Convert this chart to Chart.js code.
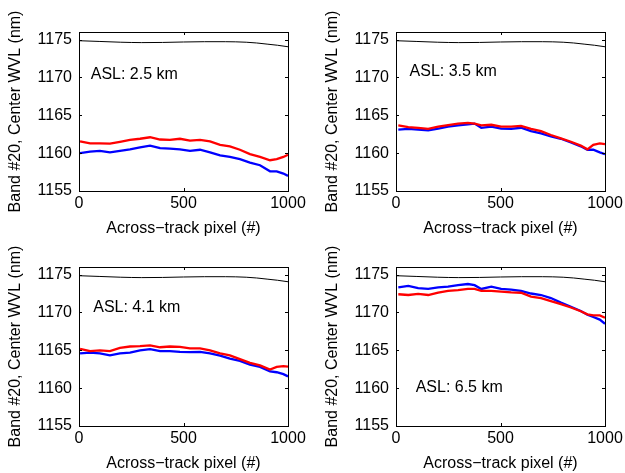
<!DOCTYPE html>
<html>
<head>
<meta charset="utf-8">
<script src="https://cdn.jsdelivr.net/npm/chart.js@4/dist/chart.umd.min.js"></script>
<style>
  body { margin: 0; background: #fff; width: 625px; height: 473px; position: relative; overflow: hidden; }
  canvas { position: absolute; }
</style>
</head>
<body>
<canvas id="c1" width="310" height="236" style="left:0;top:0"></canvas>
<canvas id="c2" width="310" height="236" style="left:317px;top:0"></canvas>
<canvas id="c3" width="310" height="236" style="left:0;top:235px"></canvas>
<canvas id="c4" width="310" height="236" style="left:317px;top:235px"></canvas>
<script>
// tick labels
const xTicks = [0, 500, 1000];
const yTicks = [1155, 1160, 1165, 1170, 1175];

// reference curve (black)
const refPixels = [0, 100, 200, 300, 400, 500, 600, 700, 800, 850, 900, 950, 1000];
const refWvl = [1174.85, 1174.75, 1174.65, 1174.6, 1174.62, 1174.68, 1174.72, 1174.72, 1174.65, 1174.55, 1174.4, 1174.25, 1174.05];

// across-track pixels sampled
const pixelsA = [5, 53, 100, 148, 196, 244, 292, 340, 388, 435, 483, 531, 579, 627, 675, 722, 770, 818, 866, 914, 946, 978, 1000];
const pixelsB = [11, 59, 106, 154, 202, 249, 297, 344, 376, 408, 456, 503, 551, 598, 646, 694, 741, 789, 837, 884, 916, 944, 975, 1000];

// ASL 2.5 km
const red25 = [1161.56, 1161.3, 1161.3, 1161.25, 1161.5, 1161.75, 1161.9, 1162.1, 1161.8, 1161.75, 1161.9, 1161.65, 1161.75, 1161.55, 1161.1, 1160.9, 1160.45, 1159.87, 1159.5, 1159.06, 1159.2, 1159.5, 1159.8];
const blue25 = [1160.0, 1160.2, 1160.3, 1160.1, 1160.3, 1160.5, 1160.75, 1161.0, 1160.65, 1160.6, 1160.5, 1160.3, 1160.45, 1160.1, 1159.7, 1159.5, 1159.2, 1158.75, 1158.4, 1157.6, 1157.6, 1157.3, 1157.0];
// ASL 3.5 km
const red35 = [1163.66, 1163.44, 1163.35, 1163.2, 1163.5, 1163.7, 1163.9, 1164.0, 1163.9, 1163.66, 1163.75, 1163.5, 1163.5, 1163.6, 1163.2, 1162.9, 1162.4, 1161.96, 1161.5, 1161.0, 1160.5, 1161.1, 1161.3, 1161.2];
const blue35 = [1163.1, 1163.2, 1163.1, 1163.0, 1163.25, 1163.5, 1163.66, 1163.8, 1163.9, 1163.35, 1163.5, 1163.25, 1163.2, 1163.35, 1162.9, 1162.6, 1162.2, 1161.9, 1161.4, 1160.9, 1160.45, 1160.45, 1160.1, 1159.85];
// ASL 4.1 km
const red41 = [1165.2, 1164.9, 1165.0, 1164.9, 1165.33, 1165.5, 1165.55, 1165.65, 1165.4, 1165.5, 1165.45, 1165.25, 1165.25, 1165.0, 1164.6, 1164.33, 1163.84, 1163.35, 1163.0, 1162.45, 1162.8, 1162.9, 1162.85];
const blue41 = [1164.6, 1164.7, 1164.6, 1164.33, 1164.6, 1164.7, 1165.0, 1165.15, 1164.9, 1164.9, 1164.8, 1164.75, 1164.8, 1164.6, 1164.3, 1163.9, 1163.6, 1163.1, 1162.8, 1162.2, 1162.1, 1161.85, 1161.55];
// ASL 6.5 km
const red65 = [1172.4, 1172.3, 1172.45, 1172.3, 1172.6, 1172.85, 1172.95, 1173.1, 1173.1, 1172.85, 1172.85, 1172.75, 1172.65, 1172.6, 1172.1, 1171.9, 1171.5, 1171.1, 1170.65, 1170.15, 1169.75, 1169.6, 1169.6, 1169.3];
const blue65 = [1173.3, 1173.5, 1173.2, 1173.1, 1173.3, 1173.4, 1173.6, 1173.75, 1173.6, 1173.1, 1173.4, 1173.1, 1173.0, 1172.85, 1172.5, 1172.3, 1171.9, 1171.3, 1170.75, 1170.2, 1169.7, 1169.4, 1169.05, 1168.5];

const panels = [
  { id: "c1", label: "ASL: 2.5 km", px: pixelsA, red: red25, blue: blue25, at: [56, 1170.4] },
  { id: "c2", label: "ASL: 3.5 km", px: pixelsB, red: red35, blue: blue35, at: [65, 1170.8] },
  { id: "c3", label: "ASL: 4.1 km", px: pixelsA, red: red41, blue: blue41, at: [68, 1170.6] },
  { id: "c4", label: "ASL: 6.5 km", px: pixelsB, red: red65, blue: blue65, at: [94, 1160.1] }
];

const FONT = "'Liberation Sans', Arial, Helvetica, sans-serif";

function pts(xs, ys) {
  return xs.map((x, i) => ({ x: x, y: ys[i] }));
}

// box, inward ticks and ASL text, matlab style
const boxPlugin = {
  id: "box",
  afterDraw(chart) {
    const ctx = chart.ctx;
    const a = chart.chartArea;
    const sx = chart.scales.x, sy = chart.scales.y;
    ctx.save();
    ctx.strokeStyle = "#000";
    ctx.lineWidth = 1;
    ctx.strokeRect(Math.round(a.left) + 0.5, Math.round(a.top) + 0.5, Math.round(a.right - a.left), Math.round(a.bottom - a.top));
    ctx.beginPath();
    xTicks.forEach(v => {
      const x = Math.round(sx.getPixelForValue(v)) + 0.5;
      ctx.moveTo(x, a.bottom); ctx.lineTo(x, a.bottom - 3);
      ctx.moveTo(x, a.top); ctx.lineTo(x, a.top + 3);
    });
    yTicks.forEach(v => {
      const y = Math.round(sy.getPixelForValue(v)) + 0.5;
      ctx.moveTo(a.left, y); ctx.lineTo(a.left + 3, y);
      ctx.moveTo(a.right, y); ctx.lineTo(a.right - 3, y);
    });
    ctx.stroke();
    const p = chart.options.plugins.box;
    ctx.fillStyle = "#000";
    ctx.font = "16px " + FONT;
    ctx.textAlign = "left";
    ctx.textBaseline = "middle";
    ctx.fillText(p.label, sx.getPixelForValue(p.at[0]), sy.getPixelForValue(p.at[1]));
    ctx.restore();
  }
};

panels.forEach(p => {
  new Chart(document.getElementById(p.id), {
    type: "line",
    data: {
      datasets: [
        { data: pts(refPixels, refWvl), borderColor: "#000", borderWidth: 1, pointRadius: 0, cubicInterpolationMode: "monotone" },
        { data: pts(p.px, p.red), borderColor: "#ff0000", borderWidth: 2.3, pointRadius: 0 },
        { data: pts(p.px, p.blue), borderColor: "#0000ff", borderWidth: 2.3, pointRadius: 0 }
      ]
    },
    options: {
      responsive: false,
      animation: false,
      devicePixelRatio: 1,
      layout: { padding: { top: 32, right: 22, left: 0, bottom: 0 } },
      plugins: {
        legend: { display: false },
        tooltip: { enabled: false },
        box: { label: p.label, at: p.at }
      },
      scales: {
        x: {
          type: "linear", min: 0, max: 1000,
          afterBuildTicks: s => { s.ticks = xTicks.map(v => ({ value: v })); },
          afterFit: s => { s.height = 45; },
          grid: { display: false, drawTicks: false },
          border: { display: false },
          ticks: { color: "#000", padding: 3, maxRotation: 0, font: { family: FONT, size: 16 }, callback: v => String(v) },
          title: { display: true, text: "Across\u2212track pixel (#)", color: "#000", padding: { top: 0, bottom: -2 }, font: { family: FONT, size: 16 } }
        },
        y: {
          type: "linear", min: 1155, max: 1176,
          afterBuildTicks: s => { s.ticks = yTicks.map(v => ({ value: v })); },
          afterFit: s => { s.width = 79; },
          grid: { display: false, drawTicks: false },
          border: { display: false },
          ticks: { color: "#000", padding: 7, font: { family: FONT, size: 16 }, callback: v => String(v) },
          title: { display: true, text: "Band #20, Center WVL (nm)", color: "#000", padding: { top: 6, bottom: 0 }, font: { family: FONT, size: 16 } }
        }
      }
    },
    plugins: [boxPlugin]
  });
});
</script>
</body>
</html>
